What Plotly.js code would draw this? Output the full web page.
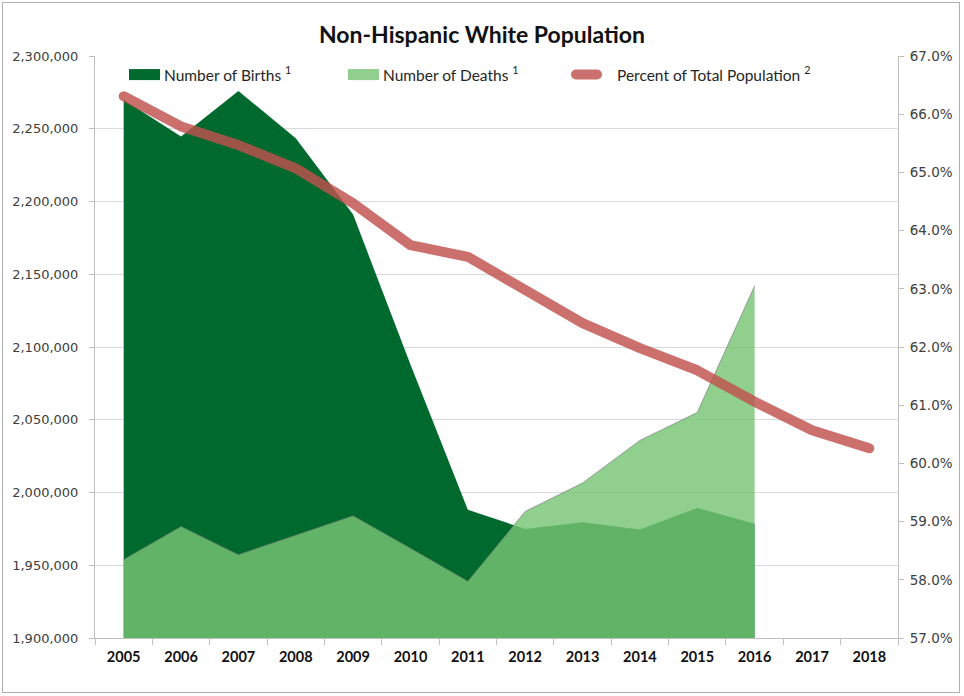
<!DOCTYPE html>
<html>
<head>
<meta charset="utf-8">
<script src="https://cdn.plot.ly/plotly-3.0.1.min.js"></script>
<style>
  body { margin: 0; background: #ffffff; }
  #chart { position: absolute; left: 0; top: 0; width: 964px; height: 696px; }
  #frame { position: absolute; left: 2px; top: 2px; width: 958px; height: 691px; border: 1px solid #b0b0b0; box-sizing: border-box; pointer-events: none; }
  .scatterlayer .js-line { stroke-linecap: round !important; stroke-linejoin: round !important; }
  .legendlines path { stroke-linecap: round !important; }
  .legendfill path { d: path("M5,-5.5h31v11h-31z"); }
  .legend2 .legendlines path { display: none; }
  .legend3 .legendlines path { d: path("M9,0h21"); }
</style>
</head>
<body>
<div id="chart"></div>
<div id="frame"></div>
<script>
// ---- data ----
const years = ['2005','2006','2007','2008','2009','2010','2011','2012','2013','2014','2015','2016','2017','2018'];
const birthYears = ['2005','2006','2007','2008','2009','2010','2011','2012','2013','2014','2015','2016'];
const births = [2270000, 2244600, 2276000, 2243500, 2191000, 2088000, 1988200, 1975000, 1979500, 1974500, 1989400, 1978600];
const deaths = [1953900, 1976700, 1957300, 1970600, 1984000, 1961700, 1939000, 1987000, 2006500, 2035800, 2055000, 2142000];
const pctWhite = [66.31, 65.79, 65.47, 65.07, 64.47, 63.75, 63.55, 62.98, 62.41, 61.98, 61.60, 61.06, 60.57, 60.26];

const leftTicks = [1900000, 1950000, 2000000, 2050000, 2100000, 2150000, 2200000, 2250000, 2300000];
const rightTicks = [57, 58, 59, 60, 61, 62, 63, 64, 65, 66, 67];
const rightTickText = rightTicks.map(v => v.toFixed(1) + '%');

const traces = [
  {
    name: 'Number of Births <sup>1</sup>',
    x: birthYears, y: births, type: 'scatter', mode: 'lines',
    fill: 'tozeroy', fillcolor: 'rgb(0,106,46)',
    line: {width: 0, color: 'rgb(0,106,46)'},
    legend: 'legend',
    hoverinfo: 'x+y'
  },
  {
    name: 'Number of Deaths <sup>1</sup>',
    x: birthYears, y: deaths, type: 'scatter', mode: 'lines',
    fill: 'tozeroy', fillcolor: 'rgba(120,196,117,0.81)',
    line: {width: 0.8, color: 'rgba(110,110,110,0.75)'},
    legend: 'legend2',
    hoverinfo: 'x+y'
  },
  {
    name: 'Percent of Total Population <sup>2</sup>',
    x: years, y: pctWhite, type: 'scatter', mode: 'lines',
    yaxis: 'y2',
    line: {width: 10, color: 'rgba(192,80,77,0.82)'},
    legend: 'legend3',
    hoverinfo: 'x+y'
  }
];

const axisGray = '#bfbfbf';
const tickText = '#404040';
const legendFont = {family: 'Lato, sans-serif', size: 15.5, color: '#262626'};
const plotL = 95, plotR = 898, plotT = 56, plotB = 638;
const legendY = (plotB - 75) / (plotB - plotT);

function legendAt(px, itemwidth) {
  return {
    x: (px - plotL) / (plotR - plotL), xref: 'paper', xanchor: 'left',
    y: legendY, yref: 'paper', yanchor: 'middle',
    orientation: 'h',
    itemwidth: itemwidth,
    bgcolor: 'rgba(255,255,255,0)',
    font: legendFont
  };
}

const layout = {
  width: 964, height: 696,
  margin: {l: plotL, r: 964 - plotR, t: plotT, b: 696 - plotB, autoexpand: false},
  paper_bgcolor: '#ffffff', plot_bgcolor: '#ffffff',
  showlegend: true,
  title: {
    text: 'Non-Hispanic White Population',
    font: {family: 'Lato, sans-serif', size: 23, color: '#111111', weight: 'bold'},
    x: 0.5, xref: 'container', y: 1 - 35/696, yref: 'container', yanchor: 'middle'
  },
  legend: legendAt(124, 30),
  legend2: legendAt(343, 30),
  legend3: legendAt(567, 40),
  xaxis: {
    type: 'category',
    categoryorder: 'array', categoryarray: years,
    range: [-0.5, 13.5],
    tickson: 'boundaries',
    ticks: 'outside', ticklen: 6, tickcolor: axisGray, tickwidth: 1,
    ticklabelstandoff: 6,
    showline: true, linecolor: axisGray, linewidth: 1,
    showgrid: false, zeroline: false,
    tickfont: {family: 'Lato, sans-serif', size: 14.5, color: '#111111', weight: 'bold'}
  },
  yaxis: {
    range: [1900000, 2300000],
    tickmode: 'array', tickvals: leftTicks,
    tickformat: ',d',
    ticks: 'outside', ticklen: 5, tickcolor: axisGray,
    ticklabelstandoff: 8,
    showline: true, linecolor: axisGray, linewidth: 1,
    showgrid: true, gridcolor: '#d9d9d9', gridwidth: 1,
    zeroline: false,
    tickfont: {family: '"DejaVu Sans", Verdana, sans-serif', size: 13, color: tickText}
  },
  yaxis2: {
    overlaying: 'y', side: 'right',
    range: [57, 67],
    tickmode: 'array', tickvals: rightTicks, ticktext: rightTickText,
    ticks: 'outside', ticklen: 5, tickcolor: axisGray,
    ticklabelstandoff: 3,
    showline: true, linecolor: axisGray, linewidth: 1,
    showgrid: false, zeroline: false,
    tickfont: {family: '"DejaVu Sans", Verdana, sans-serif', size: 13.5, color: tickText}
  },
  shapes: [
    {
      type: 'line', xref: 'x', yref: 'y',
      x0: birthYears[birthYears.length - 1], x1: birthYears[birthYears.length - 1],
      y0: leftTicks[0], y1: deaths[deaths.length - 1],
      line: {color: 'rgba(110,110,110,0.75)', width: 1},
      layer: 'above'
    }
  ]
};

Plotly.newPlot('chart', traces, layout, {displayModeBar: false, staticPlot: true});
</script>
</body>
</html>
